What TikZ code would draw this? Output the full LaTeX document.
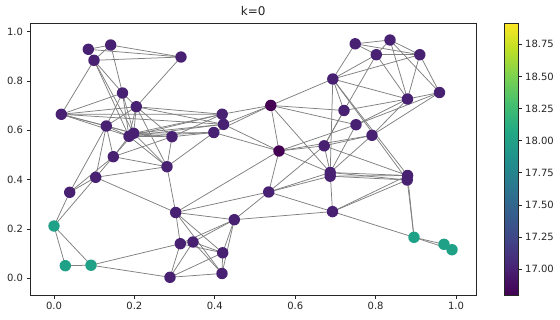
\documentclass[tikz,border=0pt]{standalone}
\usepackage{fontspec}
\setmainfont{DejaVu Sans}
\usetikzlibrary{backgrounds}
\definecolor{v0}{HTML}{440154}
\definecolor{v1}{HTML}{482475}
\definecolor{v2}{HTML}{414487}
\definecolor{v3}{HTML}{355F8D}
\definecolor{v4}{HTML}{2A788E}
\definecolor{v5}{HTML}{21918C}
\definecolor{v6}{HTML}{22A884}
\definecolor{v7}{HTML}{44BF70}
\definecolor{v8}{HTML}{7AD151}
\definecolor{v9}{HTML}{BDDF26}
\definecolor{v10}{HTML}{FDE725}
\definecolor{purp}{HTML}{482173}
\definecolor{dark}{HTML}{440154}
\definecolor{teal}{HTML}{1FA187}
\definecolor{edgegray}{HTML}{808080}
\definecolor{spine}{HTML}{262626}
\begin{document}
\begin{tikzpicture}[x=1pt,y=-1pt,font=\fontsize{10}{12}\selectfont,
  vx/.style={circle,inner sep=0pt,minimum size=11.4pt,fill=purp},
  vd/.style={vx,fill=dark},
  vt/.style={vx,fill=teal},
  edge/.style={draw=edgegray,line width=0.75pt},
  spn/.style={draw=spine,line width=0.8pt},
  tk/.style={draw=spine,line width=0.8pt},
  lab/.style={inner sep=0pt,text=spine}]
\useasboundingbox (0,0) rectangle (560,319);
% nodes
\node[vx] (a) at (88.3,49.3) {};
\node[vx] (b) at (110.7,45) {};
\node[vx] (c) at (94,60.3) {};
\node[vx] (d) at (181,57) {};
\node[vx] (e) at (122.5,93) {};
\node[vx] (f) at (136.3,106.7) {};
\node[vx] (g) at (61.3,114.3) {};
\node[vx] (h) at (106.3,126) {};
\node[vx] (i) at (133.7,133.3) {};
\node[vx] (j) at (129,136.3) {};
\node[vx] (k) at (172,136.7) {};
\node[vx] (l) at (222.2,114.2) {};
\node[vx] (m) at (223.5,124.3) {};
\node[vx] (n) at (213.8,132.5) {};
\node[vx] (o) at (113.3,156.7) {};
\node[vx] (p) at (167,166.7) {};
\node[vx] (q) at (95.7,177.3) {};
\node[vx] (r) at (69.7,192.3) {};
\node[vt] (s) at (54,226) {};
\node[vt] (t) at (65.3,265.7) {};
\node[vt] (u) at (91,265.2) {};
\node[vx] (v) at (175.7,212.5) {};
\node[vx] (w) at (234.3,219.7) {};
\node[vx] (x) at (180.3,243.7) {};
\node[vx] (y) at (193,242) {};
\node[vx] (z) at (222.7,252.8) {};
\node[vx] (aa) at (222,273.5) {};
\node[vx] (ab) at (170,277.3) {};
\node[vx] (r1) at (355.2,43.8) {};
\node[vx] (r2) at (390,40) {};
\node[vx] (r3) at (376.3,54.7) {};
\node[vx] (r4) at (419.8,54.7) {};
\node[vx] (r5) at (332.8,79) {};
\node[vx] (r6) at (439.5,92.5) {};
\node[vx] (r7) at (407.5,99) {};
\node[vd] (r8) at (270.8,105.4) {};
\node[vx] (r9) at (344,110.5) {};
\node[vx] (r10) at (356,124.7) {};
\node[vx] (r11) at (372,135.3) {};
\node[vd] (r12) at (279,151) {};
\node[vx] (r13) at (324.2,145.8) {};
\node[vx] (r14) at (330.2,172.5) {};
\node[vx] (r15) at (330.2,176.2) {};
\node[vx] (r16) at (268.7,192) {};
\node[vx] (r17) at (407.6,175.5) {};
\node[vx] (r18) at (407.2,180) {};
\node[vx] (r19) at (332.5,211.6) {};
\node[vt] (r20) at (414,237.3) {};
\node[vt] (r21) at (444,244.3) {};
\node[vt] (r22) at (452,249.7) {};
% edges
\begin{scope}[on background layer]
\fill[white] (0,0) rectangle (560,319);
\foreach \s/\e in {a/b,a/c,b/c,a/d,b/d,c/d,b/e,c/e,c/i,c/j,c/g,d/f,e/f,e/g,e/h,e/i,e/j,
  g/f,g/l,g/m,g/h,g/i,g/j,f/l,f/m,f/k,f/p,f/i,f/j,h/i,h/j,h/o,h/q,h/f,
  i/l,i/m,i/n,j/l,j/m,j/n,i/k,j/k,k/l,k/n,k/p,l/r8,m/r8,n/r8,m/r12,n/r12,n/p,
  o/p,o/q,o/i,o/j,o/k,q/p,q/r,r/s,q/s,q/v,p/v,p/i,p/j,r/h,r/o,s/t,s/u,t/u,u/x,u/ab,
  v/w,v/x,v/z,v/aa,v/r16,w/r19,w/r16,w/x,w/y,w/z,w/aa,x/y,x/z,x/ab,y/z,y/aa,y/ab,
  z/aa,z/ab,aa/ab,v/r12,
  r8/r9,r8/r10,r8/r12,r8/r14,r8/r5,r9/r7,r9/r13,r10/r12,r11/r12,r10/r7,r10/r6,
  r11/r7,r11/r6,r12/r13,r12/r14,r12/r16,r13/r17,r13/r14,r13/r11,r13/r9,
  r14/r17,r14/r18,r15/r17,r15/r18,r14/r10,r14/r11,r14/r19,r16/r14,r16/r15,
  r16/r13,r16/r19,r19/r18,r19/r17,r19/r20,r18/r20,r17/r20,r20/r21,r21/r22,
  r20/r22,r5/r17,r5/r18,r5/r14,r5/r9,r5/r7,r1/r2,r1/r3,r1/r4,r1/r5,r2/r3,
  r2/r4,r2/r6,r2/r7,r3/r4,r3/r5,r3/r7,r3/r9,r4/r5,r4/r6,r4/r7,r6/r7}
  {\draw[edge] (\s.center) -- (\e.center);}
\end{scope}
% axes frame
\draw[spn] (30.7,23.3) rectangle (476,295);
\foreach \v/\t in {0/0.0,0.2/0.2,0.4/0.4,0.6/0.6,0.8/0.8,1.0/1.0}{
  \pgfmathsetmacro\px{54+402*\v}
  \draw[tk] (\px,295) -- (\px,298.5);
  \node[lab,anchor=north] at (\px,302.3) {\t};
  \pgfmathsetmacro\py{278.3-246.6*\v}
  \draw[tk] (30.7,\py) -- (27.2,\py);
  \node[lab,anchor=east] at (23.2,\py) {\t};
}
% title
\node[lab,font=\fontsize{12}{14}\selectfont] (title) at (253.3,11.5) {k=0};
% colorbar
\begin{scope}
\clip (504.3,23.3) rectangle (518.3,295);
\foreach \k/\ca/\cb in {0/v0/v1,1/v1/v2,2/v2/v3,3/v3/v4,4/v4/v5,5/v5/v6,6/v6/v7,7/v7/v8,8/v8/v9,9/v9/v10}{
  \foreach \j in {0,...,19}{
    \pgfmathsetmacro\yb{295-(\k*20+\j)*1.3585}
    \pgfmathsetmacro\yt{295-(\k*20+\j+1.4)*1.3585}
    \pgfmathtruncatemacro\pc{5*\j+2}
    \fill[\cb!\pc!\ca] (504.3,\yb) rectangle (518.3,\yt);
  }
}
\end{scope}
\draw[spn] (504.3,23.3) rectangle (518.3,295);
\foreach \v/\t in {17/17.00,17.25/17.25,17.5/17.50,17.75/17.75,18/18.00,18.25/18.25,18.5/18.50,18.75/18.75}{
  \pgfmathsetmacro\py{269.3-(\v-17)*128.6}
  \draw[tk] (518.3,\py) -- (521.8,\py);
  \node[lab,anchor=west] at (525,\py) {\t};
}
\end{tikzpicture}
\end{document}
